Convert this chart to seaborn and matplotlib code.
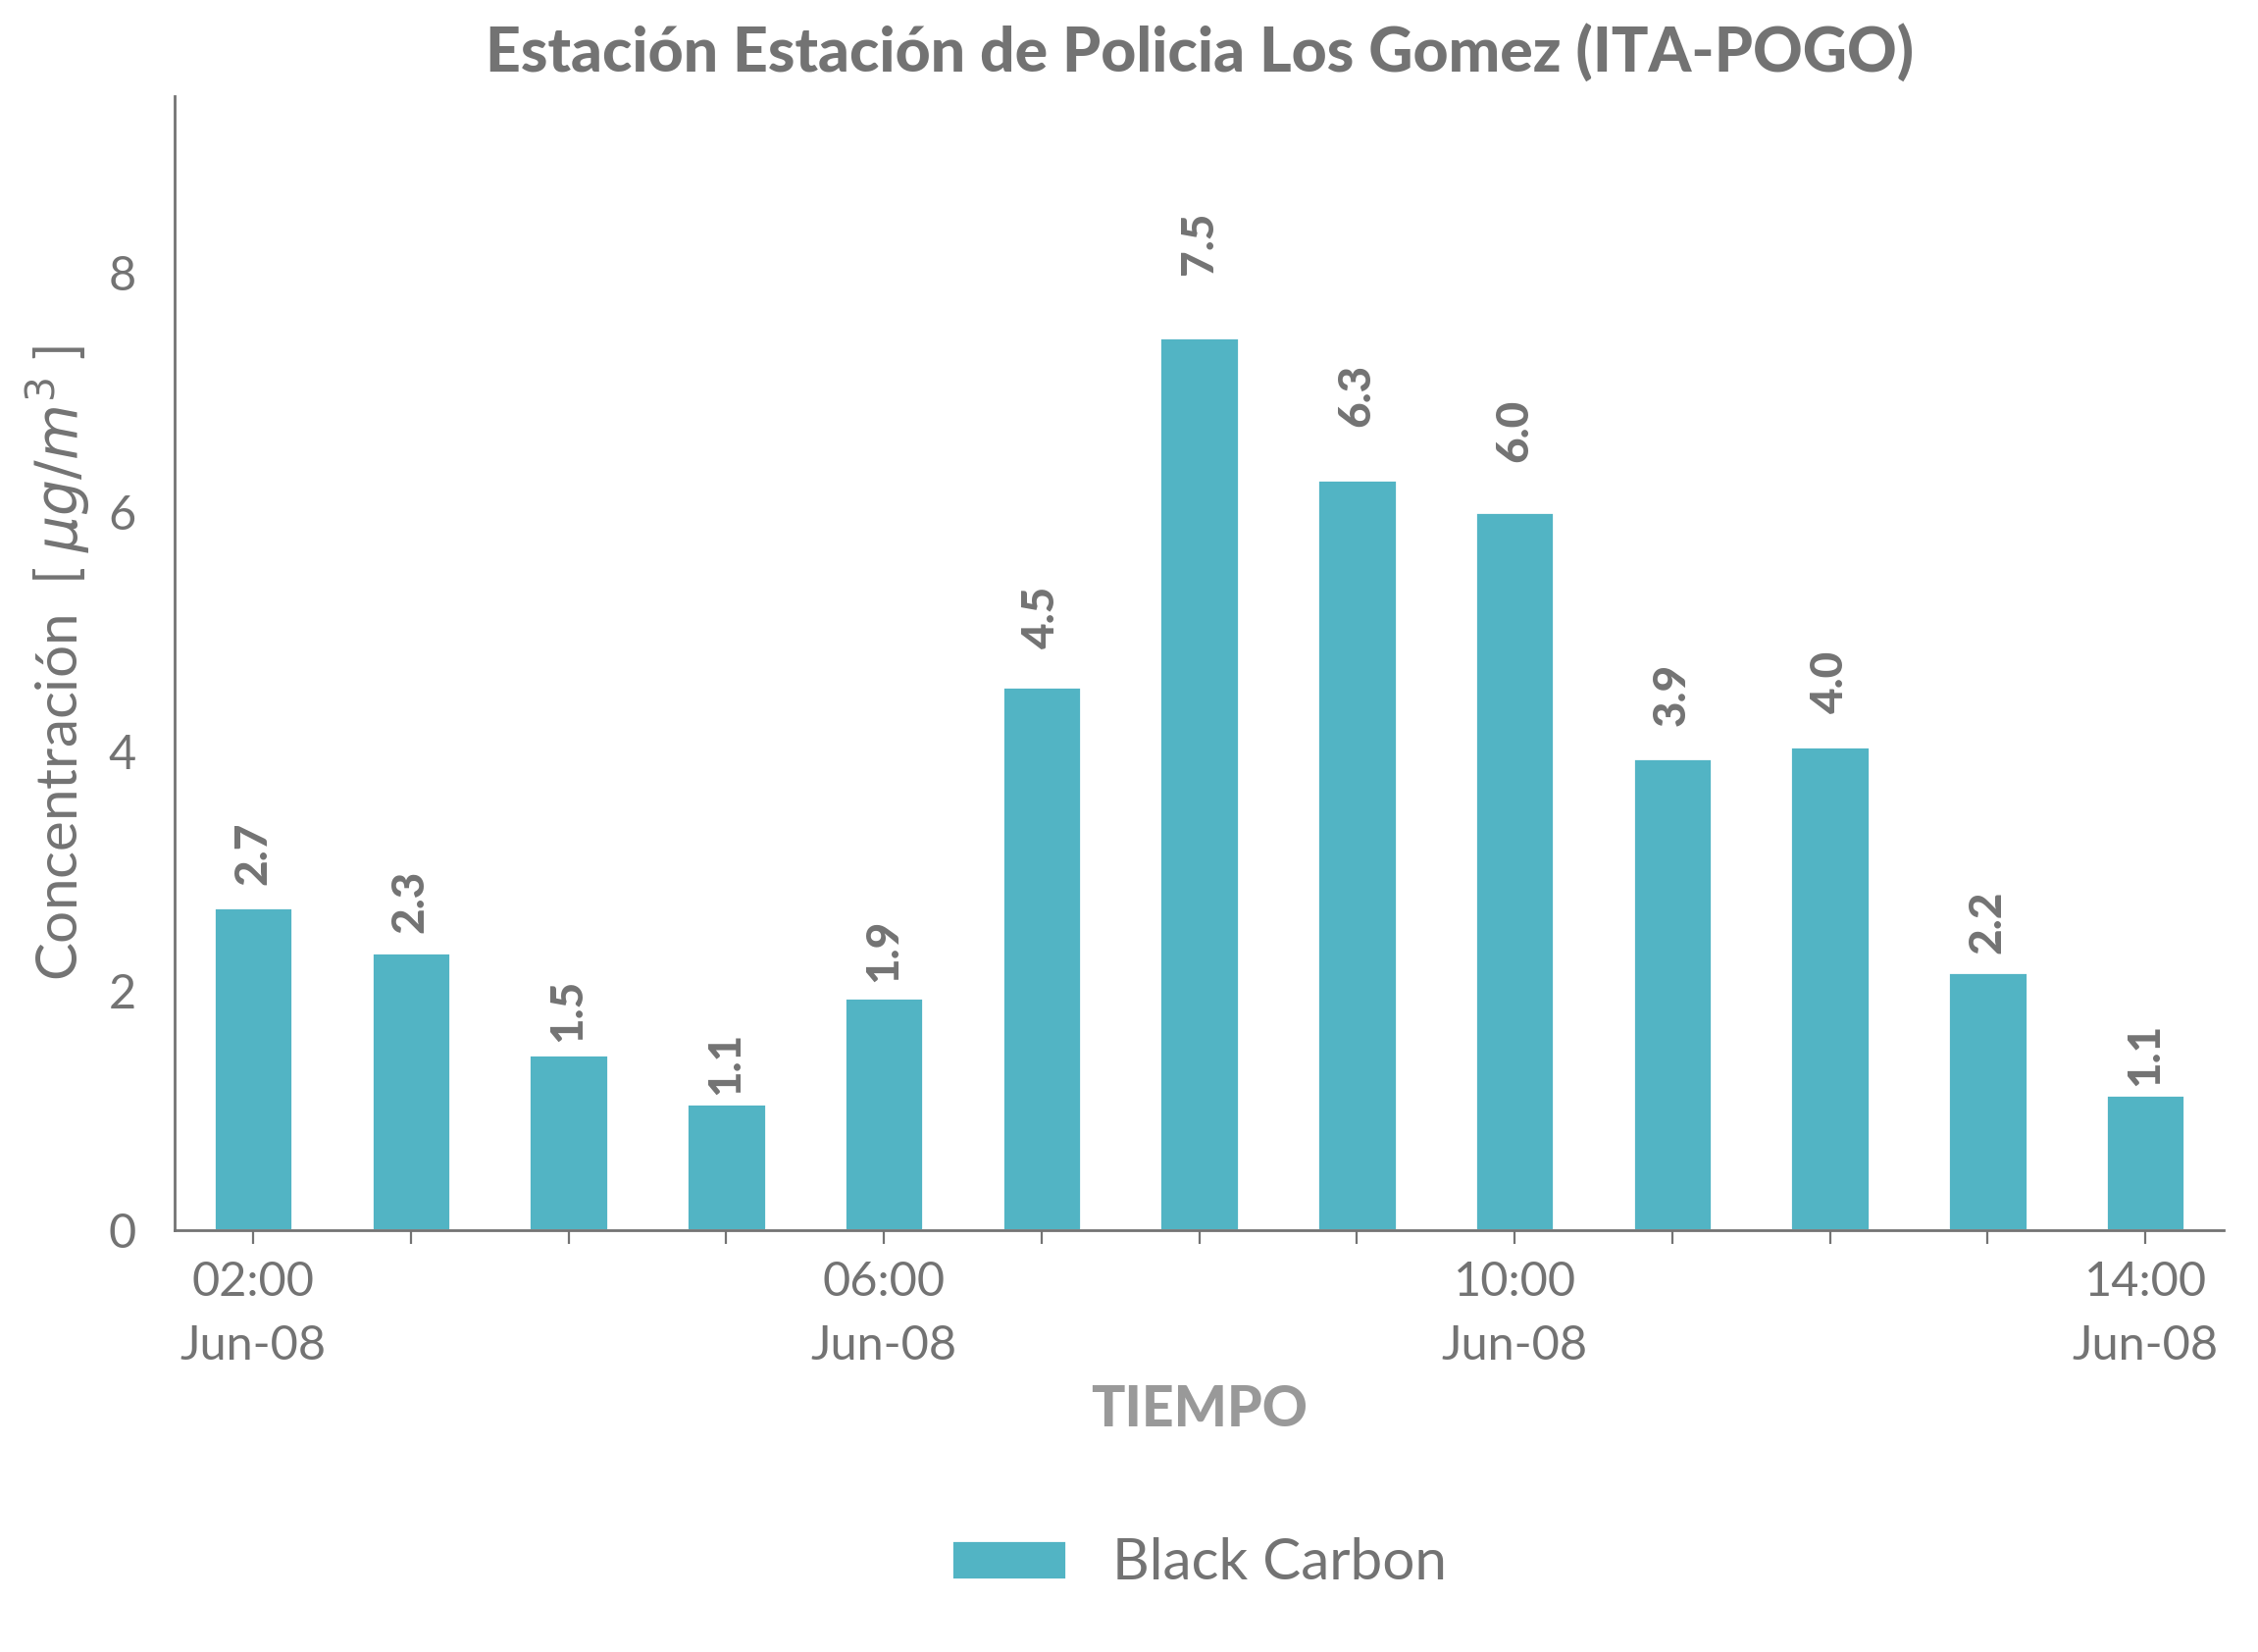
import numpy as np
import pandas as pd
import matplotlib
matplotlib.use('Agg')
import matplotlib.pyplot as plt
import seaborn as sns

#########################
#
# black carbon hourly bars, one station
#
#########################

hours = ['02:00', '03:00', '04:00', '05:00', '06:00', '07:00', '08:00',
         '09:00', '10:00', '11:00', '12:00', '13:00', '14:00']
day = 'Jun-08'
black_carbon = [2.70, 2.32, 1.47, 1.06, 1.94, 4.54, 7.46,
                6.27, 6.00, 3.94, 4.04, 2.16, 1.13]

station = 'Estación Estación de Policia Los Gomez (ITA-POGO)'
series_name = 'Black Carbon'

bar_color = '#52B4C4'
text_color = '#737373'

sns.set_style('white')
plt.rcParams['font.family'] = ['Lato', 'DejaVu Sans']
plt.rcParams['mathtext.fontset'] = 'dejavusans'

df = pd.DataFrame({'hora': hours, 'valor': black_carbon})

fig = plt.figure(figsize=(11.51, 8.42), dpi=200)
ax = fig.add_axes([0.0772, 0.2553, 0.9078, 0.6865])

sns.barplot(data=df, x='hora', y='valor', color=bar_color, saturation=1,
            width=0.5, ax=ax, label=series_name)

# value labels, rotated, a little above each bar
for i, v in enumerate(black_carbon):
    ax.text(i, v * 1.07, f'{v:.1f}', rotation=90, ha='center', va='bottom',
            fontsize=16.5, fontweight='black', color=text_color)

ax.set_xlim(-0.5, len(hours) - 0.5)
ax.set_ylim(0, max(black_carbon) * 1.27)
ax.set_yticks([0, 2, 4, 6, 8])

tick_labels = [f'{h}\n{day}' if i % 4 == 0 else '' for i, h in enumerate(hours)]
ax.set_xticks(range(len(hours)))
ax.set_xticklabels(tick_labels, linespacing=1.6)

sns.despine(ax=ax)
for side in ['left', 'bottom']:
    ax.spines[side].set_color(text_color)
    ax.spines[side].set_linewidth(1.0)

ax.tick_params(axis='both', colors=text_color, labelsize=17.5, direction='out',
               length=5, width=0.8)
ax.tick_params(axis='x', bottom=True, pad=6)
ax.tick_params(axis='y', left=True, length=0, pad=14)

ax.set_title(station, fontsize=22.5, fontweight='black', color=text_color, pad=9)
ax.set_xlabel('TIEMPO', fontsize=20.5, fontweight='black', color='#999999')
ax.xaxis.set_label_coords(0.5, -0.136)
ax.set_ylabel(r'Concentración  [ $\mu g/m^3$ ]', fontsize=21, color=text_color)
ax.yaxis.set_label_coords(-0.04, 0.5)

leg = ax.legend(loc='center', bbox_to_anchor=(0.5, -0.294), frameon=False,
                fontsize=21, handlelength=2.0, handleheight=0.7)
for t in leg.get_texts():
    t.set_color(text_color)

plt.savefig('out.png', dpi=200)
plt.close(fig)
